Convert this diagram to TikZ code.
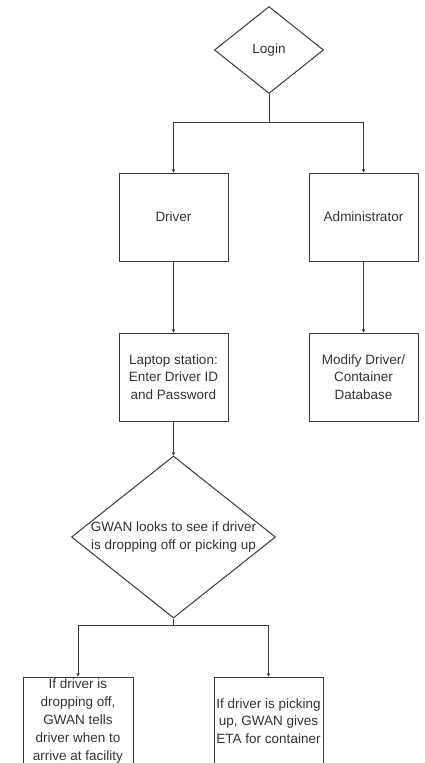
\documentclass[tikz,border=0pt]{standalone}
\usepackage{fontspec}
\setmainfont{Liberation Sans}
\usetikzlibrary{shapes.geometric,arrows.meta}
\definecolor{ln}{HTML}{3A3A3A}
\definecolor{tx}{HTML}{333333}
\begin{document}
\begin{tikzpicture}[x=1pt,y=-1pt,
  every node/.style={font=\fontsize{13.5}{17.8}\selectfont, text=tx},
  boxnode/.style={draw=ln, line width=1pt, rectangle, minimum width=109pt, minimum height=88pt, inner sep=0pt, align=center},
  dia/.style={draw=ln, line width=1pt, diamond, inner sep=0pt},
  txt/.style={align=center, inner sep=0pt},
  conn/.style={draw=ln, line width=1pt},
  arr/.style={conn, -{Stealth[length=3.5pt,width=3.5pt]}}]
\useasboundingbox (0,0) rectangle (424,763);
\begin{scope}
\clip (0,0) rectangle (424,763);
\node[dia, minimum width=109pt, minimum height=87pt] (login) at (269,50) {};
\node[txt] (logintxt) at (login) {Login};
\node[boxnode] (driver) at (173.5,217) {Driver};
\node[boxnode] (admin) at (363.5,217) {Administrator};
\node[boxnode] (laptop) at (173.5,377) {Laptop station:\\Enter Driver ID\\and Password};
\node[boxnode] (modify) at (363.5,377) {Modify Driver/\\Container\\Database};
\node[dia, minimum width=204pt, minimum height=162pt] (gwan) at (173.5,537) {};
\node[txt] (gwantxt) at (gwan) {GWAN looks to see if driver\\is dropping off or picking up};
\node[boxnode, minimum width=110pt] (drop) at (78,721) {If driver is\\dropping off,\\GWAN tells\\driver when to\\arrive at facility};
\node[boxnode] (pick) at (268.5,721) {If driver is picking\\up, GWAN gives\\ETA for container};
\coordinate (j1) at (269,122);
\coordinate (j2) at (173.5,625);
\draw[conn] (login.south) -- (j1);
\draw[arr] (j1) -| (driver.north);
\draw[arr] (j1) -| (admin.north);
\draw[arr] (driver.south) -- (laptop.north);
\draw[arr] (admin.south) -- (modify.north);
\draw[arr] (laptop.south) -- (gwan.north);
\draw[conn] (gwan.south) -- (j2);
\draw[arr] (j2) -| (drop.north);
\draw[arr] (j2) -| (pick.north);
\end{scope}
\end{tikzpicture}
\end{document}
